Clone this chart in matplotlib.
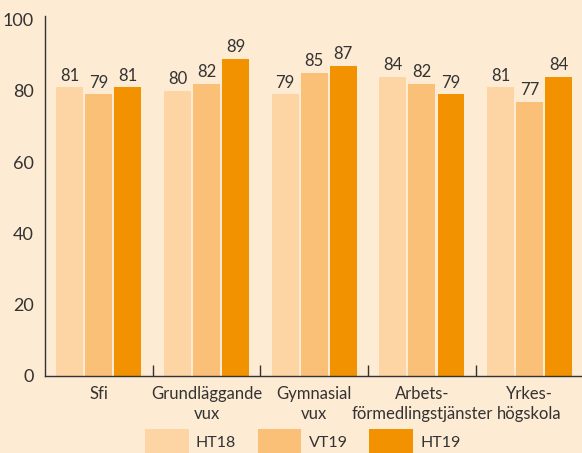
import matplotlib
matplotlib.use("Agg")
import matplotlib.pyplot as plt
import numpy as np
from matplotlib.patches import Patch

categories = ["Sfi", "Grundläggande\nvux", "Gymnasial\nvux", "Arbets-\nförmedlingstjänster", "Yrkes-\nhögskola"]
series_names = ["HT18", "VT19", "HT19"]
ht18 = [81, 80, 79, 84, 81]
vt19 = [79, 82, 85, 82, 77]
ht19 = [81, 89, 87, 79, 84]
yticks = [0, 20, 40, 60, 80, 100]

colors = ["#FDD5A5", "#FAC078", "#F39200"]
bg = "#FDEBD3"
txt = "#333333"

plt.rcParams['font.family'] = ['Lato', 'DejaVu Sans']

fig = plt.figure(figsize=(5.82, 4.53), dpi=100, facecolor=bg)
ax = fig.add_axes([45/582, 77/453, 538.5/582, 360/453], facecolor=bg)

x = np.arange(len(categories))
step = 0.27
width = 0.25
for i, (vals, c) in enumerate(zip([ht18, vt19, ht19], colors)):
    pos = x + (i - 1) * step
    ax.bar(pos, vals, width=width, color=c, zorder=2)
    for p, v in zip(pos, vals):
        ax.text(p, v + 1.0, str(v), ha='center', va='bottom', fontsize=12, color=txt)

ax.set_xlim(-0.5, len(categories) - 0.5)
ax.set_ylim(0, 101)
ax.set_yticks(yticks)
ax.set_yticklabels([str(t) for t in yticks], fontsize=13, color=txt)
ax.tick_params(axis='y', length=0, pad=8)
ax.set_xticks(x)
ax.set_xticklabels(categories, fontsize=12, color=txt, linespacing=1.3)
ax.tick_params(axis='x', which='major', length=0, pad=7)
ax.set_xticks(np.arange(0.5, len(categories) - 0.5, 1), minor=True)
ax.tick_params(axis='x', which='minor', direction='in', length=8, width=1, color=txt)

for s in ['top', 'right']:
    ax.spines[s].set_visible(False)
for s in ['left', 'bottom']:
    ax.spines[s].set_color(txt)
    ax.spines[s].set_linewidth(1)

handles = [Patch(facecolor=c, edgecolor='none') for c in colors]
fig.legend(handles, series_names, loc='upper center', bbox_to_anchor=(0.52, 24/453),
           ncol=3, frameon=False, fontsize=11.5, handlelength=2.75, handleheight=2.1,
           handletextpad=0.45, columnspacing=1.35, borderpad=0, borderaxespad=0,
           labelcolor=txt)

fig.savefig("out.png", dpi=100, facecolor=bg)
